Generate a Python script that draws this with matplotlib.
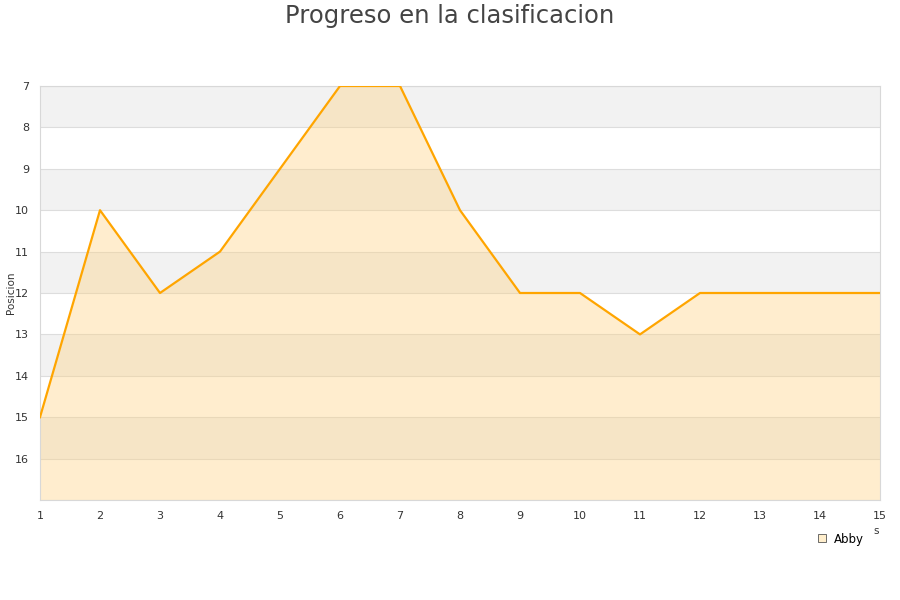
import numpy as np
import matplotlib
matplotlib.use('Agg')
import matplotlib.pyplot as plt
from matplotlib.lines import Line2D

jornadas = [1, 2, 3, 4, 5, 6, 7, 8, 9, 10, 11, 12, 13, 14, 15]
posicion = [15, 10, 12, 11, 9, 7, 7, 10, 12, 12, 13, 12, 12, 12, 12]
y_ticks = [7, 8, 9, 10, 11, 12, 13, 14, 15, 16]
jugador = 'Abby'

fig = plt.figure(figsize=(9, 6), dpi=100)
ax = fig.add_axes([40/900, 100/600, 840/900, 414/600])

# alternating bands
for k in range(7, 17, 2):
    ax.axhspan(k, k + 1, color='#f2f2f2', zorder=0, lw=0)
for k in range(7, 18):
    ax.axhline(k, color='#dddddd', lw=0.8, zorder=1)

ax.fill_between(jornadas, posicion, 17, color='#ffd27f', alpha=0.38, lw=0, zorder=2)
ax.plot(jornadas, posicion, color='#ffa500', lw=1.6, zorder=3)

ax.set_xlim(1, 15)
ax.set_ylim(17, 7)
ax.set_yticks(y_ticks)
ax.set_xticks(jornadas)
ax.tick_params(axis='both', length=0, labelsize=8, colors='#333333')
ax.tick_params(axis='x', pad=8)
ax.tick_params(axis='y', pad=8)
for s in ax.spines.values():
    s.set_color('#d8d8d8')

fig.text(11/900, 1 - 293/600, 'Posicion', fontsize=7.5, color='#333333',
         rotation=90, ha='center', va='center')
fig.text(873/900, 1 - 531/600, 's', fontsize=7.5, color='#333333', ha='left', va='center')

fig.text(0.5, 1 - 16/600, 'Progreso en la clasificacion', fontsize=17.5,
         color='#444444', ha='center', va='center')

handle = Line2D([], [], marker='s', ls='', markersize=6, markerfacecolor='#ffeecc',
                markeredgecolor='#555555', markeredgewidth=0.6)
fig.legend([handle], [jugador], loc='center', bbox_to_anchor=(840/900, 1 - 539/600),
           frameon=False, fontsize=8.5, handletextpad=0.5, handlelength=1)

fig.savefig('out.png', dpi=100)
